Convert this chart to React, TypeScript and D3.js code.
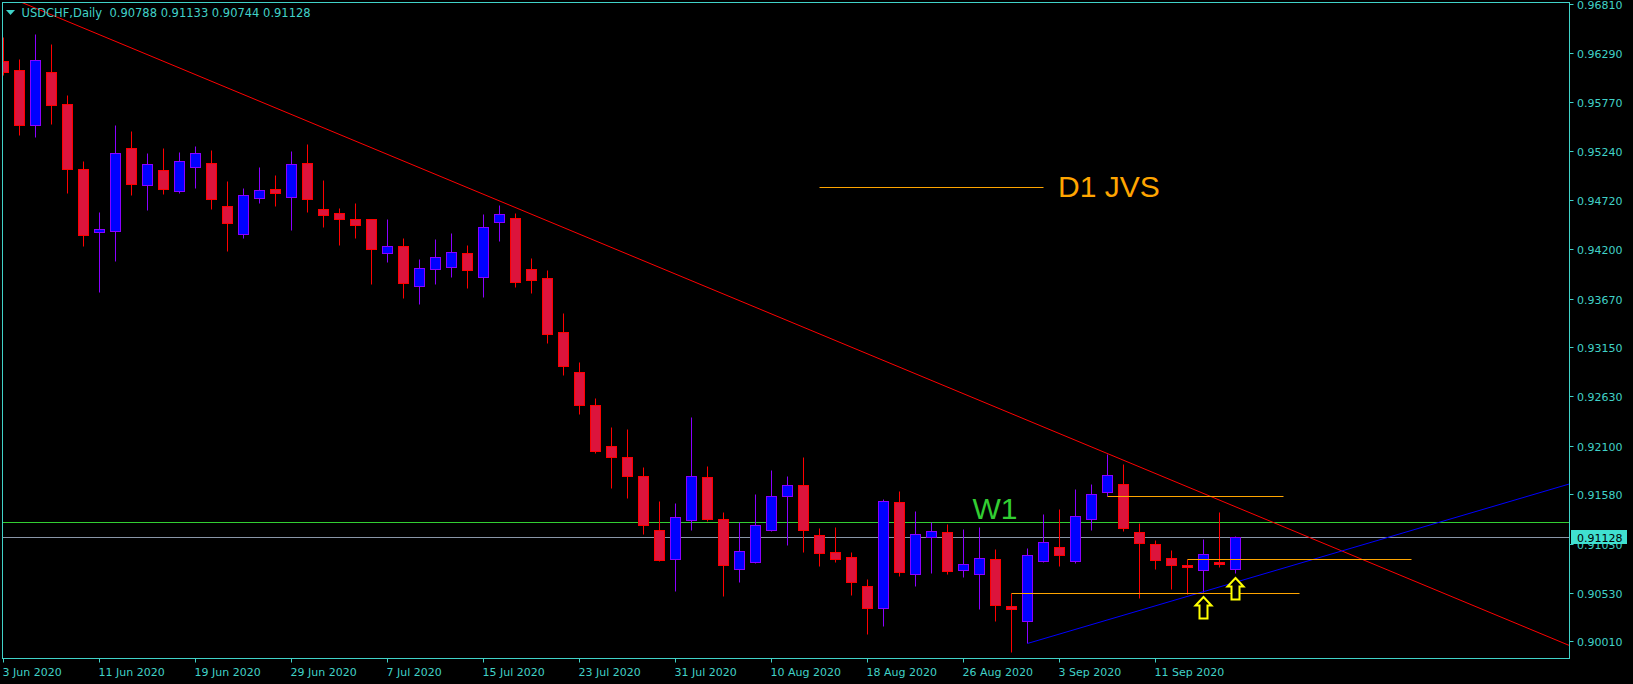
import React from "react";
import * as d3 from "d3";

// USDCHF daily bars, 3 Jun 2020 .. 18 Sep 2020
const opens = [
  0.96203, 0.9611, 0.95526, 0.96085, 0.95744, 0.9505, 0.94377, 0.94394, 0.95274, 0.94885,
  0.95039, 0.94821, 0.95071, 0.95114, 0.94655, 0.94356, 0.9474, 0.94836, 0.94751, 0.95114,
  0.94623, 0.9458, 0.94516, 0.94516, 0.94153, 0.94228, 0.93809, 0.93982, 0.9401, 0.94153,
  0.93903, 0.94484, 0.9453, 0.93982, 0.93886, 0.9331, 0.92883, 0.9253, 0.92093, 0.91975,
  0.91773, 0.91196, 0.90887, 0.91309, 0.91762, 0.91314, 0.9078, 0.90861, 0.91202, 0.91557,
  0.91676, 0.91143, 0.90961, 0.90908, 0.90601, 0.90363, 0.91498, 0.90733, 0.91128, 0.91175,
  0.90776, 0.90726, 0.90887, 0.90385, 0.90225, 0.90872, 0.91015, 0.90872, 0.9132, 0.91602,
  0.9169, 0.91175, 0.91047, 0.90897, 0.90826, 0.90776, 0.90858, 0.90788,
];
const highs = [
  0.96459, 0.96227, 0.96494, 0.96387, 0.95843, 0.95138, 0.94594, 0.95519, 0.95459, 0.95221,
  0.95277, 0.95234, 0.95298, 0.95256, 0.94925, 0.9485, 0.95074, 0.94989, 0.95245, 0.9532,
  0.94936, 0.94637, 0.9469, 0.9452, 0.94519, 0.94316, 0.9409, 0.94306, 0.9437, 0.94242,
  0.94576, 0.94669, 0.94583, 0.94103, 0.93975, 0.93516, 0.92993, 0.92608, 0.92299, 0.92277,
  0.91872, 0.91509, 0.91488, 0.92406, 0.91882, 0.91391, 0.91285, 0.91584, 0.9184, 0.91776,
  0.91979, 0.91221, 0.91231, 0.90961, 0.90676, 0.9153, 0.91616, 0.91402, 0.91285, 0.91263,
  0.9121, 0.91231, 0.90996, 0.90524, 0.91004, 0.9137, 0.91423, 0.91637, 0.9169, 0.92014,
  0.91904, 0.91271, 0.91093, 0.90986, 0.90887, 0.91103, 0.91391, 0.91133,
];
const lows = [
  0.96056, 0.95416, 0.95398, 0.95533, 0.94797, 0.94231, 0.93743, 0.94074, 0.94779, 0.94615,
  0.94789, 0.948, 0.94853, 0.94626, 0.94181, 0.9432, 0.94693, 0.94661, 0.94405, 0.94597,
  0.94437, 0.94245, 0.9432, 0.93829, 0.94063, 0.93681, 0.93607, 0.93825, 0.939, 0.93786,
  0.93687, 0.94284, 0.93793, 0.93729, 0.93196, 0.92854, 0.92438, 0.92024, 0.91651, 0.91544,
  0.9116, 0.90868, 0.90551, 0.91199, 0.91295, 0.90495, 0.90644, 0.90847, 0.91189, 0.91039,
  0.90968, 0.90818, 0.90861, 0.90505, 0.90092, 0.90178, 0.90711, 0.90605, 0.90743, 0.90733,
  0.90701, 0.90359, 0.90231, 0.89897, 0.89988, 0.90861, 0.90818, 0.9085, 0.91199, 0.91559,
  0.91192, 0.90477, 0.90786, 0.90569, 0.90516, 0.90541, 0.90801, 0.90744,
];
const closes = [
  0.96092, 0.95526, 0.96213, 0.95739, 0.95056, 0.94352, 0.94409, 0.95221, 0.94896, 0.95103,
  0.94843, 0.95135, 0.95221, 0.94736, 0.94473, 0.94772, 0.94826, 0.948, 0.95103, 0.9473,
  0.94559, 0.94516, 0.94452, 0.94202, 0.94228, 0.93831, 0.93993, 0.9411, 0.94167, 0.93978,
  0.94431, 0.94569, 0.9385, 0.93871, 0.93295, 0.92953, 0.92537, 0.92046, 0.91982, 0.91779,
  0.91256, 0.90882, 0.91335, 0.91773, 0.9132, 0.90829, 0.90972, 0.91249, 0.91559, 0.91676,
  0.91194, 0.90957, 0.90893, 0.90647, 0.9037, 0.91506, 0.90754, 0.91153, 0.91185, 0.90765,
  0.90833, 0.909, 0.90402, 0.90359, 0.90929, 0.91068, 0.90936, 0.91346, 0.9158, 0.91783,
  0.91224, 0.91057, 0.90882, 0.90829, 0.90804, 0.9094, 0.90836, 0.91128,
];

const dateTickBars = [0, 6, 12, 18, 24, 30, 36, 42, 48, 54, 60, 66, 72];
const dateTickLabels = [
  "3 Jun 2020", "11 Jun 2020", "19 Jun 2020", "29 Jun 2020", "7 Jul 2020", "15 Jul 2020",
  "23 Jul 2020", "31 Jul 2020", "10 Aug 2020", "18 Aug 2020", "26 Aug 2020", "3 Sep 2020",
  "11 Sep 2020",
];
const priceTicks = [
  0.9681, 0.9629, 0.9577, 0.9524, 0.9472, 0.942, 0.9367, 0.9315, 0.9263, 0.921, 0.9158,
  0.9105, 0.9053, 0.9001,
];

const lastPrice = 0.91128;
const w1Level = 0.91281;
// trend lines: [bar, price] anchors, drawn as rays to the right
const redTrend = [[0, 0.96912], [69, 0.92015]];
const blueTrend = [[64, 0.89988], [75, 0.90541]];
// orange horizontal segments: [fromBar, toBar, price]
const orangeLevels = [[69, 80, 0.91559], [63, 81, 0.90524], [74, 88, 0.90887]];
const legendLine = [51, 65, 0.94858];
const arrowBars = [75, 77];

const fg = "#40d2c8";
const left = 2.5, top = 2.5, right = 1569.5, bottom = 658.5;

export default function App() {
  const x = d3.scaleLinear().domain([0, 77]).range([3.5, 1235.5]);
  const y = d3.scaleLinear().domain([0.9001, 0.9681]).range([641.4, 4.4]);
  const py = (p: number) => Math.round(y(p)) + 0.5;

  const ray = (pts: number[][], fromLeft: boolean) => {
    const [[b1, p1], [b2, p2]] = pts;
    const slope = (p2 - p1) / (b2 - b1);
    const bs = fromLeft ? x.invert(left) : b1;
    const be = x.invert(right);
    return { x1: x(bs), y1: y(p1 + slope * (bs - b1)), x2: x(be), y2: y(p1 + slope * (be - b1)) };
  };
  const red = ray(redTrend, true);
  const blue = ray(blueTrend, false);

  const arrow = (tx: number, ty: number) =>
    `M${tx},${ty} L${tx + 8},${ty + 8.5} L${tx + 4},${ty + 8.5} L${tx + 4},${ty + 21.5} L${tx - 4},${ty + 21.5} L${tx - 4},${ty + 8.5} L${tx - 8},${ty + 8.5} Z`;

  return (
    <svg
      width={1633}
      height={684}
      style={{ position: "absolute", left: 0, top: 0, background: "#000", display: "block" }}
      fontFamily="DejaVu Sans, sans-serif"
    >
      <defs>
        <clipPath id="plot">
          <rect x={left} y={top} width={right - left} height={bottom - top} />
        </clipPath>
      </defs>
      <rect width={1633} height={684} fill="#000" />

      <g clipPath="url(#plot)">
        <line x1={left} x2={right} y1={py(w1Level)} y2={py(w1Level)} stroke="#32cd32" />
        <line x1={left} x2={right} y1={py(lastPrice)} y2={py(lastPrice)} stroke="#8a96a8" />

        {opens.map((o, i) => {
          const c = closes[i];
          const bull = c >= o;
          const cx = x(i);
          const t = py(Math.max(o, c));
          const b = py(Math.min(o, c));
          const edge = bull ? "#8b00ff" : "#ff0000";
          return (
            <g key={i}>
              <line x1={cx} x2={cx} y1={py(highs[i])} y2={py(lows[i])} stroke={edge} />
              <rect
                x={cx - 5}
                y={t}
                width={10}
                height={Math.max(1, b - t)}
                fill={bull ? "#0000ff" : "#dc143c"}
                stroke={edge}
              />
            </g>
          );
        })}

        <line {...red} stroke="#ff0000" />
        <line {...blue} stroke="#0000ff" />

        {orangeLevels.map(([b1, b2, p], i) => (
          <line key={i} x1={x(b1)} x2={x(b2)} y1={py(p)} y2={py(p)} stroke="#ffa500" />
        ))}
        <line x1={x(legendLine[0])} x2={x(legendLine[1])} y1={py(legendLine[2])} y2={py(legendLine[2])} stroke="#ffa500" />
        <text x={x(legendLine[1]) + 14.5} y={py(legendLine[2]) + 9.5} fill="#ffa500" fontSize={30} fontFamily="Liberation Sans, Arial, sans-serif">
          D1 JVS
        </text>
        <text x={972.5} y={518.5} fill="#32cd32" fontSize={30} fontFamily="Liberation Sans, Arial, sans-serif">
          W1
        </text>

        {arrowBars.map((b) => (
          <path key={b} d={arrow(x(b), Math.round(y(lows[b])) + 5)} fill="#000" stroke="#ffff00" strokeWidth={2} />
        ))}
      </g>

      {/* frame */}
      <rect x={left} y={top} width={right - left} height={bottom - top} fill="none" stroke={fg} />

      {/* price axis */}
      {priceTicks.map((p) => (
        <g key={p}>
          <line x1={right} x2={right + 4} y1={py(p)} y2={py(p)} stroke={fg} />
          <text x={1577} y={py(p) + 4} fill={fg} fontSize={11}>
            {p.toFixed(5)}
          </text>
        </g>
      ))}
      <rect x={1571} y={py(lastPrice) - 7.5} width={56} height={14} fill="#40e0d0" />
      <text x={1577} y={py(lastPrice) + 4} fill="#000" fontSize={11}>
        {lastPrice.toFixed(5)}
      </text>

      {/* time axis */}
      {dateTickBars.map((b, i) => (
        <g key={b}>
          <line x1={x(b)} x2={x(b)} y1={bottom} y2={bottom + 4} stroke={fg} />
          <text x={x(b) - 1} y={676} fill={fg} fontSize={11}>
            {dateTickLabels[i]}
          </text>
        </g>
      ))}

      {/* header */}
      <path d="M6,10 L15,10 L10.5,15 Z" fill={fg} />
      <text x={21.5} y={17} fill={fg} fontSize={11.5} style={{ whiteSpace: "pre" }}>
        {"USDCHF,Daily  " + [opens[77], highs[77], lows[77], closes[77]].map((v) => v.toFixed(5)).join(" ")}
      </text>
    </svg>
  );
}
